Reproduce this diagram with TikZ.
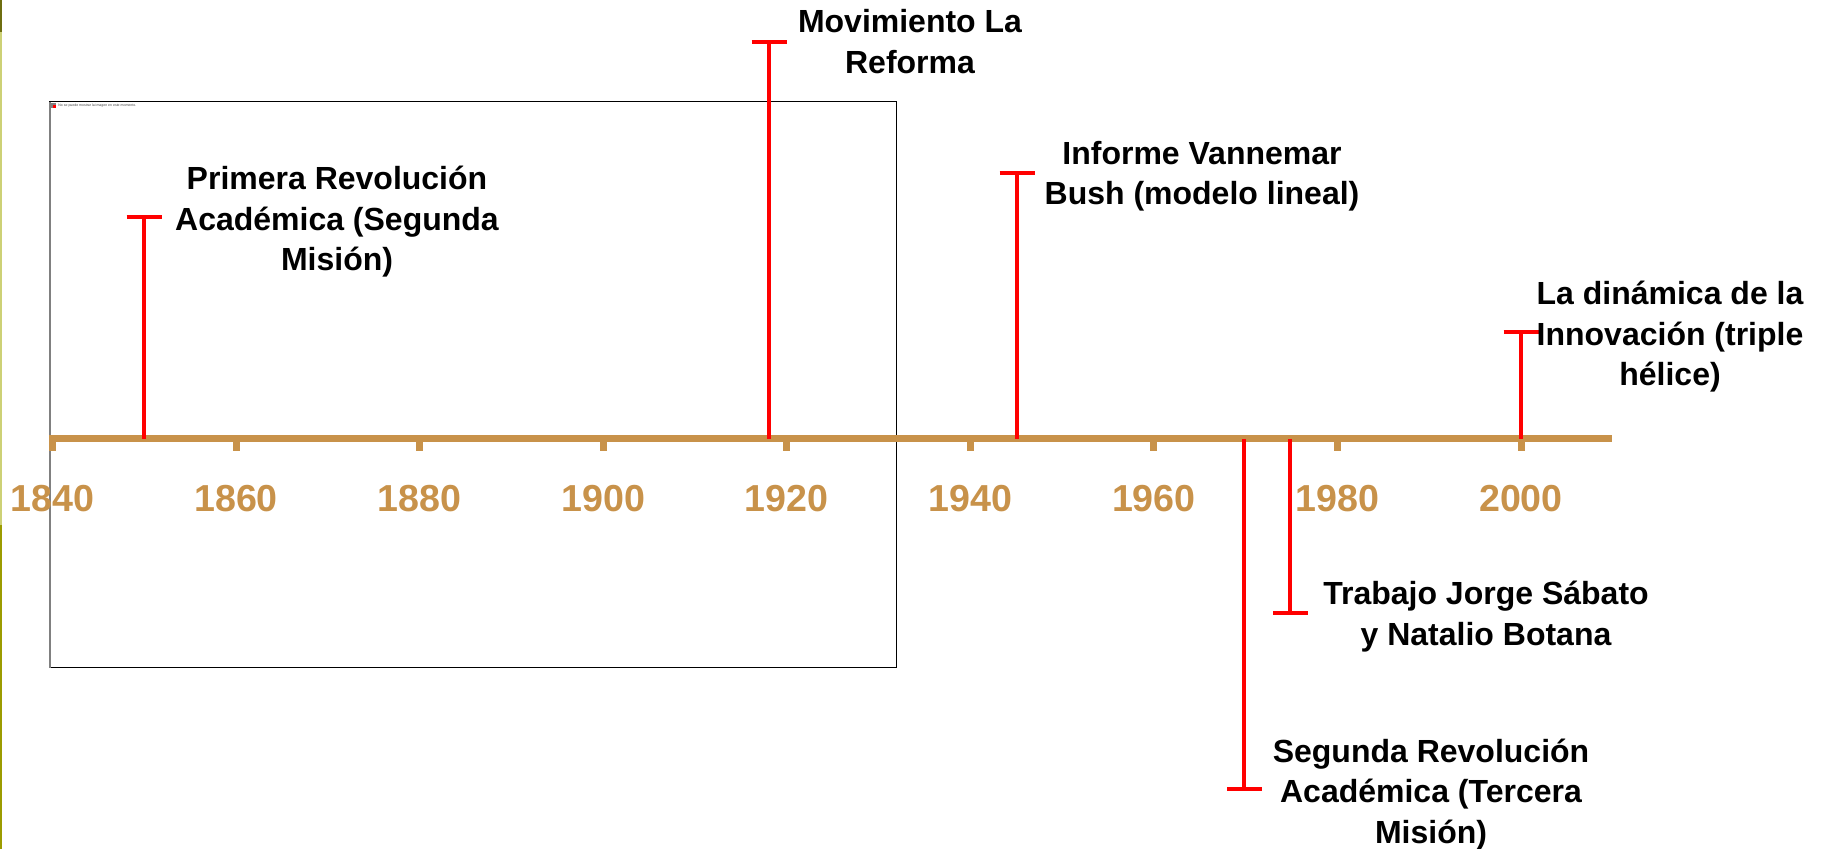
\documentclass[tikz,border=0pt]{standalone}
\usepackage{fontspec}
\setmainfont{Liberation Sans}
\usepackage{xcolor}
\usepackage{tikz}
\usetikzlibrary{arrows.meta}

\definecolor{axisbrown}{RGB}{200,146,74}
\definecolor{stripdark}{RGB}{110,110,16}
\definecolor{striplight}{RGB}{205,209,118}
\definecolor{stripolive}{RGB}{156,156,0}

\tikzset{
	event/.style={red,line width=2pt,-{Bar[width=17.5pt]}},
	evtext/.style={inner sep=0pt,align=center,anchor=base,font=\fontsize{16pt}{20.25pt}\selectfont\bfseries},
	yrtext/.style={inner sep=0pt,anchor=base,text=axisbrown,font=\fontsize{18.8pt}{22pt}\selectfont\bfseries},
	tick/.style={draw=axisbrown,line width=3.5pt}
}

\begin{document}
\begin{tikzpicture}[x=0.5pt,y=-0.5pt]
		\useasboundingbox (0,0) rectangle (1825,849);
		% side strip
		\fill[stripdark] (0,0) rectangle (2,32);
		\fill[striplight] (0,32) rectangle (2,525);
		\fill[stripolive] (0,525) rectangle (2,849);
		% empty picture frame
		\draw[black,line width=0.5pt] (49,102) -- (896,102) -- (896,667) -- (49,667);
		\draw[gray,line width=1pt] (49.5,102) -- (49.5,667.5);
		\fill[gray] (51,103) rectangle (56,108.5);
		\fill[red] (52.5,105) rectangle (55.5,108.5);
		\node[anchor=west,inner sep=0pt,text=darkgray,font=\fontsize{1.75pt}{2pt}\selectfont] (NOIMG) at (58,105.5) {No se puede mostrar la imagen en este momento.};
		%
		\coordinate (L) at (49,439);
		\coordinate (R) at (1612,439);
		\draw[tick] (L) -- (R);
		\foreach \yr in {1840,1860,...,2000}{
			\coordinate (K\yr) at ({52.5+(\yr-1840)*9.178},439);
			\draw[tick] (K\yr) -- ++(0,12);
			\node[yrtext] (Y\yr) at ({52.5+(\yr-1840)*9.178},512) {\yr};
		}
		%
		\coordinate (A1850) at (144,439);
		\coordinate (T1850) at (144,215);
		\coordinate (A1918) at (769,439);
		\coordinate (T1918) at (769,40);
		\coordinate (A1945) at (1017,439);
		\coordinate (T1945) at (1017,171);
		\coordinate (A1970) at (1244,439);
		\coordinate (T1970) at (1244,791);
		\coordinate (A1975) at (1290,439);
		\coordinate (T1975) at (1290,615);
		\coordinate (A2000) at (1521,439);
		\coordinate (T2000) at (1521,330);
		%
		\path[event]
		(A1850) edge (T1850)
		(A1918) edge (T1918)
		(A1945) edge (T1945)
		(A1970) edge (T1970)
		(A1975) edge (T1975)
		(A2000) edge (T2000);
		%
		\node[evtext] (PRA) at (337,271) {Primera Revolución\\Académica (Segunda\\Misión)};
		\node[evtext] (MLR) at (910,73.5) {Movimiento La\\Reforma};
		\node[evtext] (IVB) at (1202,205) {Informe Vannemar\\Bush (modelo lineal)};
		\node[evtext] (DTH) at (1670,386) {La dinámica de la\\Innovación (triple\\hélice)};
		\node[evtext] (JSB) at (1486,645) {Trabajo Jorge Sábato\\y Natalio Botana};
		\node[evtext] (SRA) at (1431,843) {Segunda Revolución\\Académica (Tercera\\Misión)};
\end{tikzpicture}
\end{document}
